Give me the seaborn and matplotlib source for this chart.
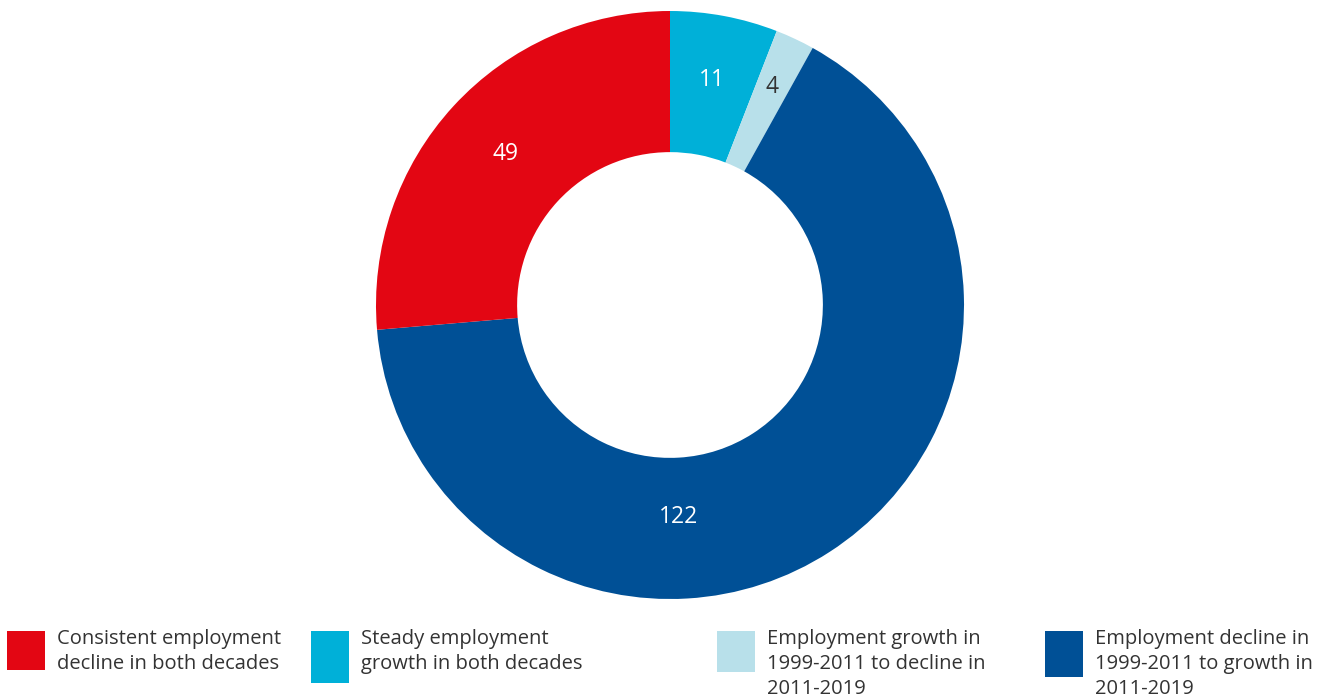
import matplotlib
matplotlib.use("Agg")
import matplotlib.pyplot as plt
from matplotlib.patches import Rectangle
import numpy as np
import seaborn as sns

# Number of industries by employment trajectory
categories = [
    "Steady employment\ngrowth in both decades",
    "Employment growth in\n1999-2011 to decline in\n2011-2019",
    "Employment decline in\n1999-2011 to growth in\n2011-2019",
    "Consistent employment\ndecline in both decades",
]
counts = [11, 4, 122, 49]
colors = ["#00B0D8", "#B8E0EA", "#005096", "#E30613"]
label_colors = ["white", "#333333", "white", "white"]

# Where each value label sits: fraction along its wedge (clockwise), and radius
label_arc_frac = [0.5, 0.5, 0.63, 0.5]
label_radius = [0.78, 0.82, 0.72, 0.76]

# Legend order as shown under the chart
legend_order = [3, 0, 1, 2]

sns.set_theme(style="white")
plt.rcParams["font.family"] = ["Open Sans", "DejaVu Sans"]

W, H, DPI = 1320, 697, 100
fig = plt.figure(figsize=(W / DPI, H / DPI), dpi=DPI)

cx, cy, r = 670, 305, 294
ax = fig.add_axes([(cx - r) / W, (H - cy - r) / H, 2 * r / W, 2 * r / H])
wedges, _texts = ax.pie(
    counts,
    colors=colors,
    startangle=90,
    counterclock=False,
    radius=1.0,
    wedgeprops=dict(width=0.48, linewidth=0),
)
for w, val, col, frac, rad in zip(wedges, counts, label_colors, label_arc_frac, label_radius):
    # wedges run clockwise, so step down from theta2
    ang = np.deg2rad(w.theta2 - (w.theta2 - w.theta1) * frac)
    ax.text(rad * np.cos(ang), rad * np.sin(ang), f"{val}", ha="center", va="center",
            fontsize=16.5, color=col)
ax.set_xlim(-1, 1)
ax.set_ylim(-1, 1)
ax.set_aspect("equal")
ax.axis("off")

# Legend laid out in four columns beneath the donut
col_x = [7, 311, 717, 1045]
patch_h = [39, 52, 41, 46]
for slot, idx in enumerate(legend_order):
    x0 = col_x[slot]
    fig.patches.append(
        Rectangle((x0 / W, 1 - (631 + patch_h[slot]) / H), 38 / W, patch_h[slot] / H,
                  transform=fig.transFigure, facecolor=colors[idx], edgecolor="none")
    )
    fig.text((x0 + 50) / W, 1 - 629 / H, categories[idx], ha="left", va="top",
             fontsize=14.5, color="#333333", linespacing=1.35)

fig.savefig("out.png", dpi=DPI)
